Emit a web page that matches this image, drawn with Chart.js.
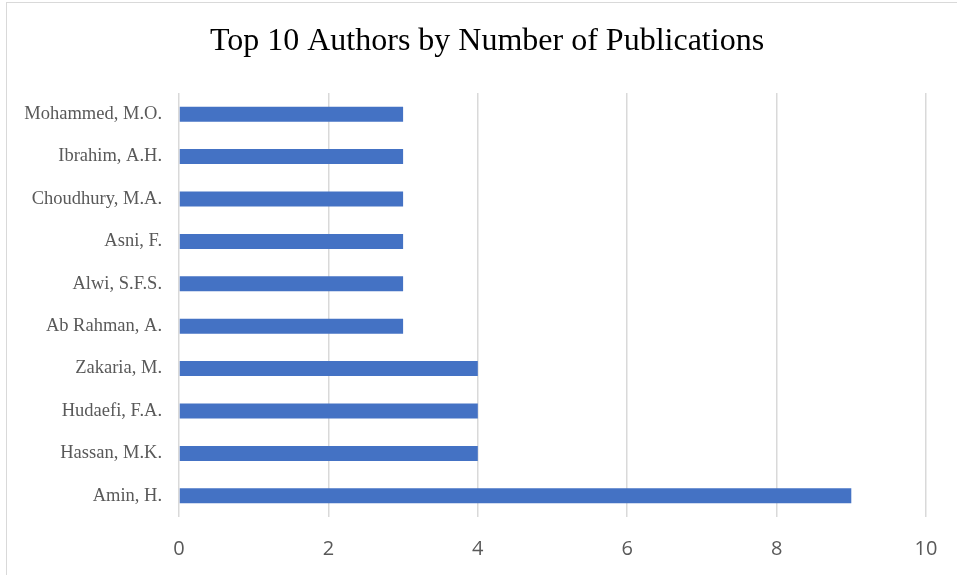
<!DOCTYPE html>
<html>
<head>
<meta charset="utf-8">
<script src="https://cdn.jsdelivr.net/npm/chart.js@4/dist/chart.umd.min.js"></script>
<style>
  html, body { margin: 0; padding: 0; background: #fff; overflow: hidden; }
  #frame { position: absolute; left: 6px; top: 2px; width: 1000px; height: 1000px; border: 1.5px solid #d9d9d9; }
  #wrap { position: absolute; left: 0; top: 0; width: 974px; height: 575px; }
</style>
</head>
<body>
<div id="frame"></div>
<div id="wrap"><canvas id="myChart" width="974" height="575"></canvas></div>
<script>
const authors = [
    'Mohammed, M.O.', 'Ibrahim, A.H.', 'Choudhury, M.A.', 'Asni, F.', 'Alwi, S.F.S.',
    'Ab Rahman, A.', 'Zakaria, M.', 'Hudaefi, F.A.', 'Hassan, M.K.', 'Amin, H.'
];
const publications = [3, 3, 3, 3, 3, 3, 4, 4, 4, 9];
const xTicks = [0, 2, 4, 6, 8, 10];

const ctx = document.getElementById('myChart').getContext('2d');
const chart = new Chart(ctx, {
    type: 'bar',
    data: {
        labels: authors,
        datasets: [{
            label: 'Publications',
            data: publications,
            backgroundColor: '#4472c4',
            borderWidth: 0,
            barPercentage: 0.354,
            categoryPercentage: 1,
            yAxisID: 'y',
        }],
    },
    options: {
        indexAxis: 'y',
        responsive: false,
        animation: false,
        layout: { padding: 0 },
        plugins: {
            legend: { display: false },
            tooltip: { enabled: false },
            title: {
                display: true,
                text: 'Top 10 Authors by Number of Publications',
                color: '#000',
                font: { family: '"Liberation Serif", "Times New Roman", serif', size: 32, weight: 'normal' },
                padding: { top: 22, bottom: 32.6 },
            },
        },
        scales: {
            x: {
                min: 0,
                max: 10,
                afterBuildTicks: (scale) => { scale.ticks = xTicks.map(v => ({ value: v })); },
                grid: { color: '#d9d9d9', lineWidth: 1.5, drawTicks: false },
                border: { display: false },
                ticks: {
                    color: '#595959',
                    padding: 20,
                    font: { family: '"Open Sans", "Liberation Sans", sans-serif', size: 20 },
                },
                afterFit: (scale) => { scale.height = 58; },
            },
            y: {
                grid: { display: false, drawTicks: false },
                border: { display: false },
                ticks: {
                    color: '#595959',
                    padding: 17,
                    font: { family: '"Liberation Serif", "Times New Roman", serif', size: 18.5 },
                },
                afterFit: (scale) => { scale.width = 179; },
            },
            // empty spacer on the right so the plot ends where the original does
            spacer: {
                type: 'linear',
                position: 'right',
                grid: { display: false, drawTicks: false },
                border: { display: false },
                ticks: { display: false },
                afterFit: (scale) => { scale.width = 48; },
            },
        },
    },
});
</script>
</body>
</html>
